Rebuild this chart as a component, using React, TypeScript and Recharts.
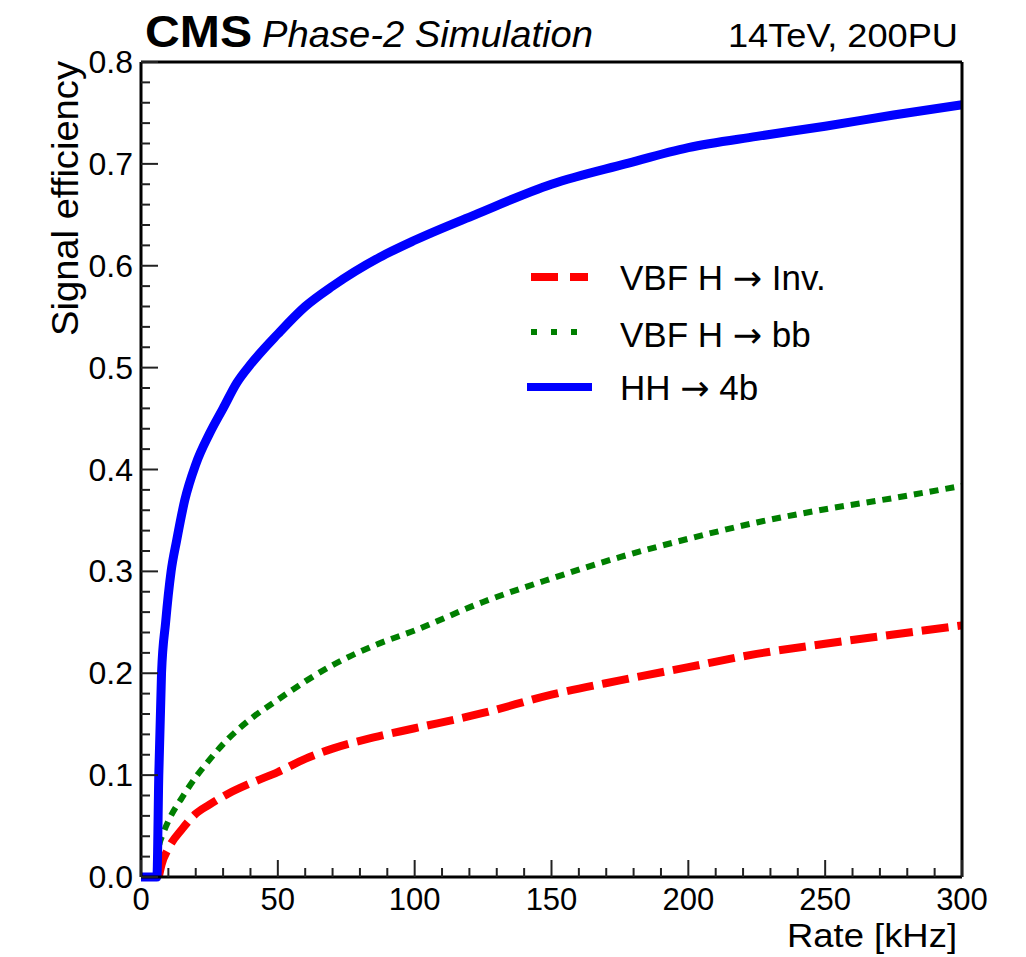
import React from 'react';
import { LineChart, Line, XAxis, YAxis } from 'recharts';

interface Pt {
  x: number;
  y: number;
}

// Rate [kHz] vs signal efficiency
const HH_4B: Pt[] = [
  { x: 0, y: 0 }, { x: 5.8, y: 0 }, { x: 6.5, y: 0.1 }, { x: 7.5, y: 0.2 },
  { x: 9, y: 0.25 }, { x: 11, y: 0.3 }, { x: 13, y: 0.33 }, { x: 16, y: 0.37 },
  { x: 20, y: 0.405 }, { x: 25, y: 0.435 }, { x: 30, y: 0.46 }, { x: 35, y: 0.485 },
  { x: 40, y: 0.503 }, { x: 50, y: 0.533 }, { x: 60, y: 0.56 }, { x: 70, y: 0.58 },
  { x: 87, y: 0.608 }, { x: 100, y: 0.625 }, { x: 122, y: 0.65 }, { x: 150, y: 0.68 },
  { x: 177, y: 0.7 }, { x: 200, y: 0.716 }, { x: 225, y: 0.727 }, { x: 250, y: 0.737 },
  { x: 275, y: 0.748 }, { x: 300, y: 0.758 },
];

const VBF_BB: Pt[] = [
  { x: 6, y: 0 }, { x: 6.6, y: 0.03 }, { x: 8, y: 0.042 }, { x: 10, y: 0.055 },
  { x: 15, y: 0.078 }, { x: 20, y: 0.098 }, { x: 25, y: 0.115 }, { x: 32, y: 0.136 },
  { x: 40, y: 0.155 }, { x: 50, y: 0.174 }, { x: 60, y: 0.192 }, { x: 70, y: 0.208 },
  { x: 85, y: 0.227 }, { x: 100, y: 0.242 }, { x: 125, y: 0.27 }, { x: 150, y: 0.293 },
  { x: 175, y: 0.314 }, { x: 200, y: 0.332 }, { x: 225, y: 0.348 }, { x: 250, y: 0.361 },
  { x: 275, y: 0.372 }, { x: 300, y: 0.384 },
];

const VBF_INV: Pt[] = [
  { x: 6.5, y: 0 }, { x: 7.5, y: 0.012 }, { x: 10, y: 0.028 }, { x: 15, y: 0.047 },
  { x: 20, y: 0.062 }, { x: 25, y: 0.071 }, { x: 32, y: 0.082 }, { x: 40, y: 0.092 },
  { x: 50, y: 0.103 }, { x: 60, y: 0.116 }, { x: 70, y: 0.126 }, { x: 85, y: 0.137 },
  { x: 100, y: 0.146 }, { x: 125, y: 0.161 }, { x: 150, y: 0.179 }, { x: 175, y: 0.193 },
  { x: 200, y: 0.206 }, { x: 225, y: 0.219 }, { x: 250, y: 0.229 }, { x: 275, y: 0.238 },
  { x: 300, y: 0.247 },
];

const X_TICKS = Array.from({ length: 31 }, (_, i) => i * 10);
const Y_TICKS = Array.from({ length: 41 }, (_, i) => i / 50);

const FONT = '"Liberation Sans", Arial, Helvetica, sans-serif';
const ARROW_FONT = '"DejaVu Sans", sans-serif';
const TICK_COLOR = '#222';

const BottomTick = (props: any) => {
  const { x, y, payload } = props;
  const v = payload.value as number;
  const major = v % 50 === 0;
  return (
    <g>
      <line x1={x} x2={x} y1={y} y2={y - (major ? 17 : 9)} stroke={TICK_COLOR} strokeWidth={2} />
      {major && (
        <text x={x} y={y + 33} textAnchor="middle" fontSize={31} fontFamily={FONT} fill="#000">
          {v}
        </text>
      )}
    </g>
  );
};

const TopTick = (props: any) => {
  const { x, y, payload } = props;
  const major = payload.value % 50 === 0;
  return <line x1={x} x2={x} y1={y} y2={y + (major ? 17 : 9)} stroke={TICK_COLOR} strokeWidth={2} />;
};

const isMajorY = (v: number) => Math.round(v * 50) % 5 === 0;

const LeftTick = (props: any) => {
  const { x, y, payload } = props;
  const v = payload.value as number;
  const major = isMajorY(v);
  return (
    <g>
      <line x1={x} x2={x + (major ? 17 : 9)} y1={y} y2={y} stroke={TICK_COLOR} strokeWidth={2} />
      {major && (
        <text x={x - 8} y={y + 11} textAnchor="end" fontSize={32} fontFamily={FONT} fill="#000">
          {v.toFixed(1)}
        </text>
      )}
    </g>
  );
};

const RightTick = (props: any) => {
  const { x, y, payload } = props;
  const major = isMajorY(payload.value);
  return <line x1={x} x2={x - (major ? 17 : 9)} y1={y} y2={y} stroke={TICK_COLOR} strokeWidth={2} />;
};

const axisLine = { stroke: '#000', strokeWidth: 3 };

const Arrow = () => <tspan fontFamily={ARROW_FONT}>{'\u2192'}</tspan>;

export default function App() {
  return (
    <div style={{ position: 'absolute', left: 0, top: 0, width: 1026, height: 957, background: '#fff' }}>
      <LineChart width={1026} height={957} margin={{ top: 0, right: 0, bottom: 0, left: 0 }}>
        <XAxis
          dataKey="x"
          type="number"
          domain={[0, 300]}
          ticks={X_TICKS}
          interval={0}
          height={80}
          tickSize={0}
          tickMargin={0}
          axisLine={axisLine}
          tick={<BottomTick />}
        />
        <XAxis
          xAxisId="top"
          orientation="top"
          dataKey="x"
          type="number"
          domain={[0, 300]}
          ticks={X_TICKS}
          interval={0}
          height={62}
          tickSize={0}
          tickMargin={0}
          axisLine={axisLine}
          tick={<TopTick />}
        />
        <YAxis
          type="number"
          domain={[0, 0.8]}
          ticks={Y_TICKS}
          interval={0}
          width={141}
          tickSize={0}
          tickMargin={0}
          axisLine={axisLine}
          tick={<LeftTick />}
        />
        <YAxis
          yAxisId="right"
          orientation="right"
          type="number"
          domain={[0, 0.8]}
          ticks={Y_TICKS}
          interval={0}
          width={64}
          tickSize={0}
          tickMargin={0}
          axisLine={axisLine}
          tick={<RightTick />}
        />
        <Line
          data={VBF_INV}
          dataKey="y"
          type="monotone"
          stroke="#ff0000"
          strokeWidth={8}
          strokeDasharray="27 9"
          dot={false}
          activeDot={false}
          isAnimationActive={false}
        />
        <Line
          data={VBF_BB}
          dataKey="y"
          type="monotone"
          stroke="#007f00"
          strokeWidth={6}
          strokeDasharray="9 7"
          dot={false}
          activeDot={false}
          isAnimationActive={false}
        />
        <Line
          data={HH_4B}
          dataKey="y"
          type="monotone"
          stroke="#0000ff"
          strokeWidth={9}
          dot={false}
          activeDot={false}
          isAnimationActive={false}
        />
      </LineChart>
      <svg
        width={1026}
        height={957}
        style={{ position: 'absolute', left: 0, top: 0, pointerEvents: 'none' }}
        fontFamily={FONT}
      >
        <text x={145} y={47} fontSize={44} fontWeight="bold" textLength={107} lengthAdjust="spacingAndGlyphs">
          CMS
        </text>
        <text x={262} y={47} fontSize={36} fontStyle="italic" textLength={331} lengthAdjust="spacingAndGlyphs">
          Phase-2 Simulation
        </text>
        <text x={958} y={47} fontSize={33} textAnchor="end" textLength={230} lengthAdjust="spacingAndGlyphs">
          14TeV, 200PU
        </text>
        <text x={957} y={947} fontSize={33} textAnchor="end" textLength={170} lengthAdjust="spacingAndGlyphs">
          Rate [kHz]
        </text>
        <text
          transform="translate(78,336) rotate(-90)"
          fontSize={36}
          textLength={275}
          lengthAdjust="spacingAndGlyphs"
        >
          Signal efficiency
        </text>
        <line x1={531} x2={588} y1={277} y2={277} stroke="#ff0000" strokeWidth={8} strokeDasharray="27 12" />
        <line x1={531} x2={578} y1={332} y2={332} stroke="#007f00" strokeWidth={6} strokeDasharray="6 14" />
        <line x1={527} x2={592} y1={387} y2={387} stroke="#0000ff" strokeWidth={8} />
        <text x={620} y={290} fontSize={35}>
          VBF H <Arrow /> Inv.
        </text>
        <text x={620} y={347} fontSize={35}>
          VBF H <Arrow /> bb
        </text>
        <text x={620} y={400} fontSize={35}>
          HH <Arrow /> 4b
        </text>
      </svg>
    </div>
  );
}
